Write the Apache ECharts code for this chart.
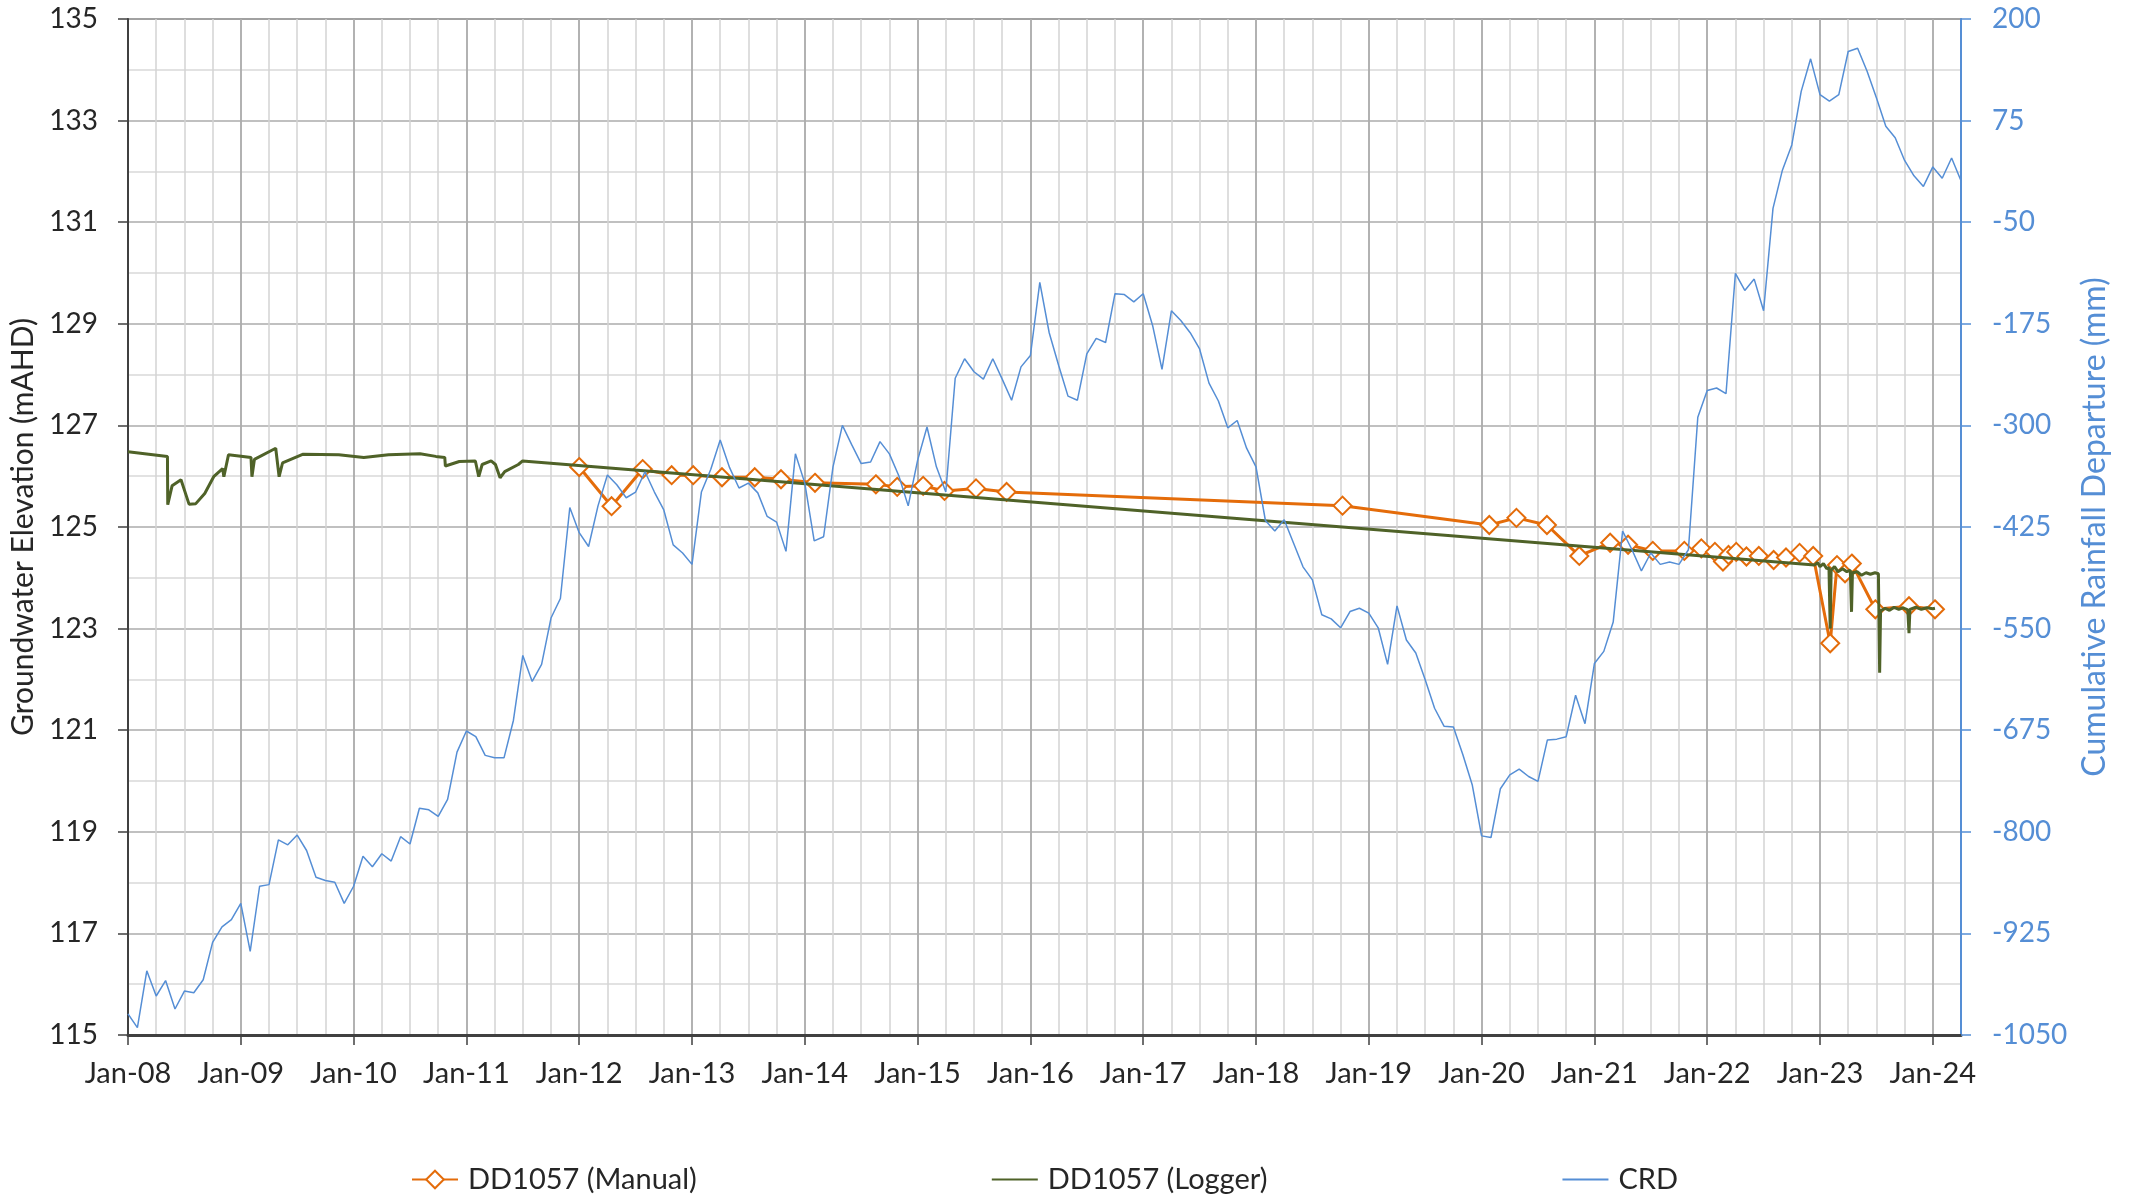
<!DOCTYPE html>
<html>
<head>
<meta charset="utf-8">
<script src="https://cdn.jsdelivr.net/npm/echarts@6/dist/echarts.min.js"></script>
<style>
  html, body { margin: 0; padding: 0; background: #fff; }
  #chart { width: 2130px; height: 1199px; }
</style>
</head>
<body>
<div id="chart"></div>
<script>
// DD1057 manual dips (mAHD)
const manualDates = [
  '2012-01-01', '2012-04-15', '2012-07-25', '2012-10-27', '2013-01-05', '2013-04-08',
  '2013-07-23', '2013-10-16', '2014-02-03', '2014-08-19', '2014-10-27', '2015-01-19',
  '2015-03-29', '2015-07-09', '2015-10-16', '2018-10-08', '2020-01-26', '2020-04-23',
  '2020-07-31', '2020-11-13', '2021-02-21', '2021-04-20', '2021-07-09', '2021-10-19',
  '2021-12-13', '2022-01-26', '2022-02-21', '2022-03-11', '2022-04-05', '2022-05-08',
  '2022-06-17', '2022-08-04', '2022-09-13', '2022-10-27', '2022-12-10', '2023-02-03',
  '2023-02-25', '2023-03-23', '2023-04-14', '2023-06-29', '2023-10-16', '2024-01-08'
];
const manualLevels = [
  126.18, 125.41, 126.14, 126.02, 126.02, 125.98,
  125.98, 125.94, 125.87, 125.84, 125.79, 125.81,
  125.71, 125.76, 125.69, 125.42, 125.04, 125.18,
  125.04, 124.43, 124.69, 124.65, 124.53, 124.53,
  124.58, 124.51, 124.32, 124.45, 124.51, 124.42,
  124.43, 124.35, 124.40, 124.49, 124.43, 122.71,
  124.25, 124.09, 124.28, 123.38, 123.44, 123.38
];

// DD1057 logger (mAHD)
const loggerDates = [
  '2008-01-01', '2008-05-08', '2008-05-09', '2008-05-23', '2008-06-21', '2008-07-17',
  '2008-08-08', '2008-09-06', '2008-10-05', '2008-11-03', '2008-11-07', '2008-11-22',
  '2009-01-08', '2009-02-03', '2009-02-06', '2009-02-14', '2009-04-24', '2009-05-05',
  '2009-05-16', '2009-07-20', '2009-11-14', '2010-02-03', '2010-04-24', '2010-08-04',
  '2010-09-24', '2010-10-23', '2010-10-25', '2010-12-09', '2011-01-30', '2011-02-10',
  '2011-02-21', '2011-03-22', '2011-04-05', '2011-04-20', '2011-05-05', '2011-06-18',
  '2011-07-02', '2022-12-14', '2022-12-24', '2023-01-01', '2023-01-12', '2023-01-23',
  '2023-01-30', '2023-02-03', '2023-02-06', '2023-02-17', '2023-02-28', '2023-03-15',
  '2023-03-29', '2023-04-09', '2023-04-13', '2023-04-16', '2023-05-01', '2023-05-15',
  '2023-05-30', '2023-06-13', '2023-06-28', '2023-07-09', '2023-07-13', '2023-07-16',
  '2023-07-31', '2023-08-14', '2023-08-29', '2023-09-13', '2023-09-27', '2023-10-12',
  '2023-10-16', '2023-10-19', '2023-11-07', '2023-11-25', '2023-12-13', '2024-01-01',
  '2024-01-08'
];
const loggerLevels = [
  126.48, 126.39, 125.44, 125.81, 125.93, 125.45,
  125.46, 125.66, 125.99, 126.15, 125.99, 126.42,
  126.39, 126.37, 125.99, 126.33, 126.55, 125.99,
  126.26, 126.43, 126.42, 126.37, 126.42, 126.44,
  126.39, 126.37, 126.20, 126.29, 126.30, 125.99,
  126.23, 126.30, 126.23, 125.97, 126.09, 126.23,
  126.30, 124.25, 124.30, 124.22, 124.28, 124.18,
  124.20, 123.00, 124.15, 124.22, 124.12, 124.18,
  124.12, 124.15, 123.33, 124.10, 124.12, 124.05,
  124.10, 124.07, 124.10, 124.08, 122.13, 123.35,
  123.40, 123.36, 123.42, 123.38, 123.41, 123.37,
  122.91, 123.38, 123.42, 123.38, 123.41, 123.39,
  123.40
];

// Cumulative rainfall departure (mm), monthly from Jan-08
const crdStartYear = 2008;
const crdValues = [
  -1024, -1041, -971, -1002, -983, -1018, -996, -998, -982, -936, -917, -908,
  -888, -947, -867, -865, -810, -816, -804, -823, -856, -860, -862, -888,
  -867, -830, -843, -827, -836, -806, -815, -771, -773, -781, -760, -702,
  -676, -683, -706, -709, -709, -663, -583, -615, -594, -537, -513, -401,
  -432, -449, -399, -361, -373, -389, -382, -357, -382, -404, -447, -457,
  -471, -382, -354, -318, -352, -377, -371, -383, -412, -419, -455, -335,
  -371, -442, -437, -351, -300, -324, -347, -345, -320, -335, -362, -399,
  -343, -302, -351, -382, -242, -218, -234, -243, -218, -243, -269, -228,
  -214, -124, -186, -226, -264, -269, -212, -193, -198, -138, -139, -148,
  -138, -177, -231, -159, -171, -186, -206, -248, -270, -303, -294, -328,
  -351, -417, -430, -416, -445, -474, -490, -533, -538, -549, -529, -525,
  -531, -549, -594, -522, -564, -580, -613, -648, -670, -671, -705, -742,
  -805, -807, -747, -730, -723, -732, -738, -687, -686, -683, -632, -667,
  -593, -578, -542, -430, -453, -479, -457, -471, -468, -471, -453, -290,
  -257, -254, -261, -113, -134, -120, -159, -33, 14, 45, 111, 151,
  107, 99, 107, 160, 164, 136, 103, 68, 54, 26, 7, -6,
  18, 4, 29, 1
];

const yearTicks = [2008, 2009, 2010, 2011, 2012, 2013, 2014, 2015, 2016,
  2017, 2018, 2019, 2020, 2021, 2022, 2023, 2024];

function toYear(s) {
  const [y, m, d] = s.split('-').map(Number);
  const t0 = Date.UTC(y, 0, 1), t1 = Date.UTC(y + 1, 0, 1);
  return y + (Date.UTC(y, m - 1, d) - t0) / (t1 - t0);
}

const manualData = manualDates.map((d, i) => [toYear(d), manualLevels[i]]);
const loggerData = loggerDates.map((d, i) => [toYear(d), loggerLevels[i]]);
const crdData = crdValues.map((v, i) => [crdStartYear + i / 12, v]);

const FONT = 'Lato';
const TXT = '#262626';
const BLUE = '#558ED5';
const X_MIN = 2008, X_MAX = 2024.25;

const chart = echarts.init(document.getElementById('chart'), null, { renderer: 'canvas' });

chart.setOption({
  animation: false,
  backgroundColor: '#fff',
  textStyle: { fontFamily: FONT },
  grid: {
    left: 128, right: 169, top: 19, bottom: 164,
    show: true, borderColor: '#595959', borderWidth: 1.5
  },
  legend: {
    left: 406, top: 1160,
    itemGap: 294, itemWidth: 46, itemHeight: 22,
    textStyle: { fontSize: 29, color: TXT, fontFamily: FONT, padding: [0, 0, 0, 5] },
    data: [
      { name: 'DD1057 (Manual)' },
      { name: 'DD1057 (Logger)', itemStyle: { opacity: 0 } },
      { name: 'CRD', itemStyle: { opacity: 0 } }
    ]
  },
  xAxis: [
    {
      // quarterly grid lines
      type: 'value', position: 'top',
      min: X_MIN, max: X_MAX, interval: 0.25,
      axisLine: { show: false }, axisTick: { show: false }, axisLabel: { show: false },
      splitLine: { show: true, lineStyle: { color: '#D3D3D3', width: 1.5 } }
    },
    {
      // yearly axis
      type: 'value', position: 'bottom',
      min: X_MIN, max: X_MAX, interval: 1,
      axisLine: { show: true, onZero: false, lineStyle: { color: '#404040', width: 3 } },
      axisTick: { show: true, customValues: yearTicks, length: 10, lineStyle: { color: '#404040', width: 1.5 } },
      axisLabel: {
        customValues: yearTicks,
        fontSize: 29, color: TXT, margin: 24, fontFamily: FONT,
        formatter: v => Number.isInteger(v) ? 'Jan-' + String(v).slice(2) : ''
      },
      splitLine: { show: true, lineStyle: { color: '#A3A3A3', width: 1.5 } }
    }
  ],
  yAxis: [
    {
      type: 'value',
      min: 115, max: 135, interval: 2,
      name: 'Groundwater Elevation (mAHD)',
      nameLocation: 'middle', nameGap: 90,
      nameTextStyle: { fontSize: 30, color: TXT, fontFamily: FONT },
      axisLine: { show: true, lineStyle: { color: '#404040', width: 2 } },
      axisTick: { show: true, length: 10, lineStyle: { color: '#404040', width: 1.5 } },
      axisLabel: { fontSize: 28, color: TXT, margin: 30, fontFamily: FONT },
      splitLine: { show: true, lineStyle: { color: '#ABABAB', width: 1.5 } },
      minorTick: { show: false, splitNumber: 2 },
      minorSplitLine: { show: true, lineStyle: { color: '#D9D9D9', width: 1.5 } }
    },
    {
      type: 'value',
      position: 'right',
      min: -1050, max: 200, interval: 125,
      name: 'Cumulative Rainfall Departure (mm)',
      nameLocation: 'middle', nameGap: 112, nameRotate: 90,
      nameTextStyle: { fontSize: 32, color: BLUE, fontFamily: FONT },
      axisLine: { show: true, lineStyle: { color: BLUE, width: 2 } },
      axisTick: { show: true, length: 10, lineStyle: { color: BLUE, width: 1.5 } },
      axisLabel: { fontSize: 28, color: BLUE, margin: 31, fontFamily: FONT, formatter: v => String(v) },
      splitLine: { show: false }
    }
  ],
  series: [
    {
      name: 'DD1057 (Manual)',
      type: 'line',
      xAxisIndex: 1, yAxisIndex: 0,
      data: manualData,
      symbol: 'emptyDiamond',
      symbolSize: [18, 18],
      color: '#E46C0A',
      lineStyle: { color: '#E46C0A', width: 3 },
      itemStyle: { color: '#E46C0A', borderColor: '#E46C0A', borderWidth: 2.5 },
      z: 3
    },
    {
      name: 'DD1057 (Logger)',
      type: 'line',
      xAxisIndex: 1, yAxisIndex: 0,
      data: loggerData,
      symbol: 'none',
      color: '#4F6228',
      lineStyle: { color: '#4F6228', width: 3 },
      z: 4
    },
    {
      name: 'CRD',
      type: 'line',
      xAxisIndex: 1, yAxisIndex: 1,
      data: crdData,
      symbol: 'none',
      color: BLUE,
      lineStyle: { color: BLUE, width: 1.5 },
      z: 5
    }
  ]
});
</script>
</body>
</html>
